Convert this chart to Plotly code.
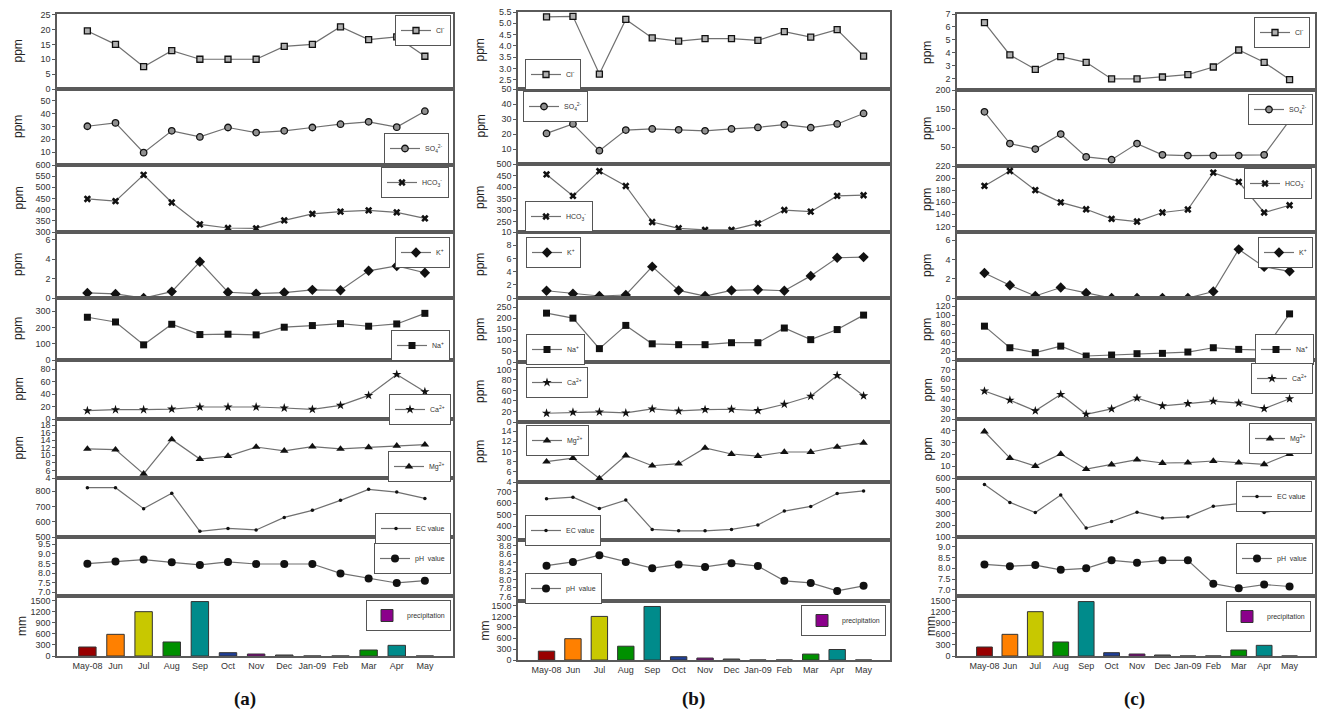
import plotly.graph_objects as go

W, H = 1319, 713

months = ["May-08", "Jun", "Jul", "Aug", "Sep", "Oct", "Nov", "Dec", "Jan-09", "Feb", "Mar", "Apr", "May"]

# ---- site (a) ----
a_cl = [19.5, 15.0, 7.5, 12.9, 10.0, 10.0, 10.0, 14.3, 15.0, 20.9, 16.6, 17.5, 11.0]
a_so4 = [30.1, 32.7, 9.6, 26.5, 21.8, 29.1, 25.2, 26.5, 29.1, 31.7, 33.5, 29.4, 41.8]
a_hco3 = [448, 438, 556, 432, 334, 318, 316, 352, 381, 391, 397, 388, 361]
a_k = [0.52, 0.42, 0.0, 0.66, 3.73, 0.59, 0.45, 0.56, 0.84, 0.80, 2.8, 3.3, 2.6]
a_na = [262, 233, 93, 219, 156, 158, 154, 201, 211, 223, 207, 221, 286]
a_ca = [13.4, 15.0, 15.0, 16.0, 19.3, 19.3, 19.3, 17.7, 15.5, 22.0, 38.0, 71.8, 44.0]
a_mg = [11.7, 11.5, 5.1, 14.2, 9.0, 9.8, 12.2, 11.2, 12.3, 11.7, 12.1, 12.5, 12.8]
a_ec = [822, 822, 685, 785, 537, 556, 546, 628, 674, 739, 811, 793, 752]
a_ph = [8.49, 8.60, 8.70, 8.56, 8.42, 8.58, 8.47, 8.47, 8.47, 7.98, 7.72, 7.48, 7.60]

# ---- site (b) ----
b_cl = [5.28, 5.31, 2.75, 5.17, 4.35, 4.21, 4.32, 4.32, 4.24, 4.63, 4.39, 4.72, 3.55]
b_so4 = [20.4, 26.7, 8.9, 22.6, 23.4, 22.8, 22.1, 23.4, 24.4, 26.3, 24.2, 26.7, 33.7]
b_hco3 = [455, 362, 469, 405, 249, 222, 215, 215, 243, 301, 294, 362, 365]
b_k = [1.1, 0.65, 0.3, 0.45, 4.75, 1.15, 0.3, 1.15, 1.25, 1.1, 3.35, 6.1, 6.2]
b_na = [223, 200, 61, 167, 83, 79, 79, 88, 88, 155, 102, 148, 214]
b_ca = [16.6, 18.5, 19.1, 17.2, 24.8, 21.0, 23.6, 24.2, 21.7, 33.8, 49.0, 88.5, 49.7]
b_mg = [8.0, 8.7, 4.7, 9.2, 7.2, 7.6, 10.7, 9.5, 9.1, 9.9, 9.9, 10.9, 11.7]
b_ec = [637, 651, 553, 626, 372, 360, 360, 372, 410, 531, 571, 683, 706]
b_ph = [8.33, 8.42, 8.58, 8.42, 8.27, 8.36, 8.30, 8.39, 8.32, 7.97, 7.92, 7.73, 7.85]

# ---- site (c) ----
c_cl = [6.33, 3.85, 2.74, 3.72, 3.28, 2.0, 2.0, 2.15, 2.33, 2.92, 4.23, 3.28, 1.95]
c_so4 = [142.5, 59, 44.6, 84, 24, 16.7, 59, 29.3, 27.5, 27.5, 27.5, 29.3, 120]
c_hco3 = [187, 211.8, 180, 159.8, 148.3, 132.5, 128, 143, 148, 209, 193.7, 143, 155]
c_k = [2.6, 1.33, 0.21, 1.09, 0.53, 0.0, 0.0, 0.0, 0.0, 0.67, 5.05, 3.23, 2.77]
c_na = [75.6, 27.4, 16.3, 31.0, 8.9, 11.1, 14.1, 14.8, 17.8, 27.4, 23.7, 22.2, 103]
c_ca = [48.2, 39.0, 28.2, 44.8, 24.8, 30.2, 41.1, 33.3, 35.6, 38.0, 36.0, 30.5, 40.4]
c_mg = [39.4, 16.9, 10.1, 20.3, 7.5, 11.4, 15.5, 12.7, 13.0, 14.4, 13.0, 11.6, 20.3]
c_ec = [544, 393, 307, 455, 176, 231, 310, 260, 271, 360, 383, 307, 343]
c_ph = [8.18, 8.10, 8.15, 7.93, 8.00, 8.37, 8.26, 8.37, 8.37, 7.29, 7.08, 7.25, 7.16]

# precipitation (mm), same for all three sites
precip = [244, 587, 1201, 380, 1475, 90, 54, 27, 0, 0, 163, 289, 0]
precip_colors = ["#990000", "#ff8000", "#c8c800", "#009000", "#008b8b", "#1f3f99",
                 "#8b008b", "#808080", "#999999", "#999999", "#009000", "#008b8b", "#999999"]

names = ["Cl<sup>-</sup>", "SO<sub>4</sub><sup>2-</sup>", "HCO<sub>3</sub><sup>-</sup>", "K<sup>+</sup>",
         "Na<sup>+</sup>", "Ca<sup>2+</sup>", "Mg<sup>2+</sup>", "EC value", "pH  value", "precipitation"]

styles = [
    dict(symbol="square", size=6, color="#b0b0b0", line=dict(color="#111", width=1.3)),
    dict(symbol="circle", size=6.5, color="#909090", line=dict(color="#111", width=1.3)),
    dict(symbol="x", size=6.5, color="#111", line=dict(width=0)),
    dict(symbol="diamond", size=8, color="#111", line=dict(width=0)),
    dict(symbol="square", size=7, color="#111", line=dict(width=0)),
    dict(symbol="star", size=7, color="#111", line=dict(width=0)),
    dict(symbol="triangle-up", size=7.5, color="#111", line=dict(width=0)),
    dict(symbol="circle", size=3.5, color="#111", line=dict(width=0)),
    dict(symbol="circle", size=8, color="#111", line=dict(width=0)),
]

series = [
    [a_cl, a_so4, a_hco3, a_k, a_na, a_ca, a_mg, a_ec, a_ph],
    [b_cl, b_so4, b_hco3, b_k, b_na, b_ca, b_mg, b_ec, b_ph],
    [c_cl, c_so4, c_hco3, c_k, c_na, c_ca, c_mg, c_ec, c_ph],
]

yranges = [
    [[0, 25.2], [0, 59], [300, 600], [0, 6.8], [0, 380], [0, 95], [4, 19.6], [500, 885], [6.8, 9.88], [0, 1626]],
    [[2.09, 5.5], [0, 50], [206, 500], [0, 10], [0, 292], [0, 114], [4, 15.8], [280, 783], [7.49, 8.94], [0, 1626]],
    [[1.15, 7.0], [0, 200], [110.7, 220], [0, 6.85], [0, 138.5], [20, 79.5], [0, 50], [100, 600], [6.72, 9.45], [0, 1626]],
]
yticks = [
    [[0, 5, 10, 15, 20, 25], [10, 20, 30, 40, 50], [300, 350, 400, 450, 500, 550, 600], [0, 2, 4, 6],
     [0, 100, 200, 300], [0, 20, 40, 60, 80], [4, 6, 8, 10, 12, 14, 16, 18], [500, 600, 700, 800],
     [7.0, 7.5, 8.0, 8.5, 9.0, 9.5], [0, 300, 600, 900, 1200, 1500]],
    [[2.5, 3.0, 3.5, 4.0, 4.5, 5.0, 5.5], [10, 20, 30, 40, 50], [250, 300, 350, 400, 450, 500],
     [0, 2, 4, 6, 8, 10], [0, 50, 100, 150, 200, 250], [0, 20, 40, 60, 80, 100], [4, 6, 8, 10, 12, 14],
     [300, 400, 500, 600, 700], [7.6, 7.8, 8.0, 8.2, 8.4, 8.6, 8.8], [0, 300, 600, 900, 1200, 1500]],
    [[2, 3, 4, 5, 6, 7], [50, 100, 150, 200], [120, 140, 160, 180, 200, 220], [0, 2, 4, 6],
     [0, 20, 40, 60, 80, 100, 120], [20, 30, 40, 50, 60, 70], [10, 20, 30, 40],
     [100, 200, 300, 400, 500, 600], [7.0, 7.5, 8.0, 8.5, 9.0], [0, 300, 600, 900, 1200, 1500]],
]
tickfmt = [
    [None] * 8 + [".1f", None],
    [".1f"] + [None] * 7 + [".1f", None],
    [None] * 8 + [".1f", None],
]

# layout geometry (pixels)
col_x = [(57, 453), (518, 890), (957, 1315)]
row_y = [
    [14, 89, 165, 232, 298, 360, 419, 478, 537, 596, 656],
    [12, 89, 164, 232, 298, 362, 422, 482, 540, 601, 660],
    [14, 90, 166, 232, 298, 360, 419, 478, 537, 596, 656],
]
title_x = [18, 480, 927]
# legend anchors: (x_px, y_top_px, xanchor)
leg_pos = [
    [(451, 15, "right"), (449, 133, "right"), (449, 167, "right"), (450, 237, "right"), (450, 330, "right"),
     (451, 394, "right"), (451, 451, "right"), (451, 513, "right"), (451, 543, "right"), (451, 600, "right")],
    [(525, 59, "left"), (523, 91, "left"), (525, 201, "left"), (526, 237, "left"), (526, 334, "left"),
     (526, 367, "left"), (526, 425, "left"), (525, 515, "left"), (525, 573, "left"), (886, 605, "right")],
    [(1310, 17, "right"), (1313, 94, "right"), (1312, 168, "right"), (1313, 237, "right"), (1314, 334, "right"),
     (1313, 363, "right"), (1312, 423, "right"), (1312, 481, "right"), (1313, 543, "right"), (1311, 601, "right")],
]

def px_x(v):
    return v / W

def px_y(v):
    return 1 - v / H

fig = go.Figure()
layout = {}
annotations = []
axcol = "#5a5a5a"
tfont = dict(size=9, color="#333", family="Liberation Sans, Arial")

for c in range(3):
    for r in range(10):
        k = c * 10 + r + 1
        xa = "x" if k == 1 else f"x{k}"
        ya = "y" if k == 1 else f"y{k}"
        lg = "legend" if k == 1 else f"legend{k}"
        if r < 9:
            fig.add_trace(go.Scatter(
                x=months, y=series[c][r], mode="lines+markers", name=names[r],
                line=dict(color="#707070", width=1.2), marker=styles[r],
                xaxis=xa, yaxis=ya, legend=lg, showlegend=True))
        else:
            fig.add_trace(go.Bar(
                x=months, y=precip, marker=dict(color=precip_colors, line=dict(color="#333", width=1)),
                width=0.62, xaxis=xa, yaxis=ya, showlegend=False))
            fig.add_trace(go.Bar(
                x=[None], y=[None], name=names[r], marker=dict(color="#8b008b", line=dict(color="#333", width=1)),
                xaxis=xa, yaxis=ya, legend=lg, showlegend=True))
        y0, y1 = row_y[c][r + 1], row_y[c][r]
        layout["xaxis" if k == 1 else f"xaxis{k}"] = dict(
            domain=[px_x(col_x[c][0]), px_x(col_x[c][1])], anchor=ya,
            type="category", categoryorder="array", categoryarray=months,
            range=[-1.08, 13.0], showline=True, mirror=True, linecolor=axcol, linewidth=1.5,
            showgrid=False, zeroline=False, ticks="", showticklabels=(r == 9),
            tickfont=tfont, automargin=False)
        yd = dict(
            domain=[px_y(y0), px_y(y1)], anchor=xa, range=yranges[c][r], tickvals=yticks[c][r],
            showline=True, mirror=True, linecolor=axcol, linewidth=1.5, showgrid=False, zeroline=False,
            ticks="outside", ticklen=3, tickcolor=axcol, tickwidth=1,
            tickfont=tfont, automargin=False)
        if tickfmt[c][r]:
            yd["tickformat"] = tickfmt[c][r]
        layout["yaxis" if k == 1 else f"yaxis{k}"] = yd
        lx, ly, xanc = leg_pos[c][r]
        layout[lg] = dict(
            x=px_x(lx), y=px_y(ly), xanchor=xanc, yanchor="top", bgcolor="white",
            bordercolor="#555", borderwidth=1, font=dict(size=7, color="#333", family="Liberation Sans, Arial"),
            itemwidth=30, tracegroupgap=0)
        ytitle = None
        if r < 7:
            ytitle = "ppm"
        elif r == 9:
            ytitle = "mm"
        if ytitle:
            annotations.append(dict(
                x=px_x(title_x[c] + (4 if r == 9 else 0)), y=px_y((y0 + y1) / 2), xref="paper", yref="paper",
                text=ytitle, textangle=-90, showarrow=False, xanchor="center", yanchor="middle",
                font=dict(size=12, color="#222", family="Liberation Sans, Arial")))

for lbl, cx in zip(["(a)", "(b)", "(c)"], [245, 693, 1134]):
    annotations.append(dict(
        x=px_x(cx), y=px_y(699), xref="paper", yref="paper", text=f"<b>{lbl}</b>", showarrow=False,
        xanchor="center", yanchor="middle", font=dict(size=19, color="#111", family="Liberation Serif, Times New Roman")))

fig.update_layout(
    width=W, height=H, margin=dict(l=0, r=0, t=0, b=0), template="none",
    paper_bgcolor="white", plot_bgcolor="white", annotations=annotations, **layout)

fig.write_html("out.html", config={"displayModeBar": False},
               post_script="document.body.style.margin='0px';document.body.style.overflow='hidden';")
